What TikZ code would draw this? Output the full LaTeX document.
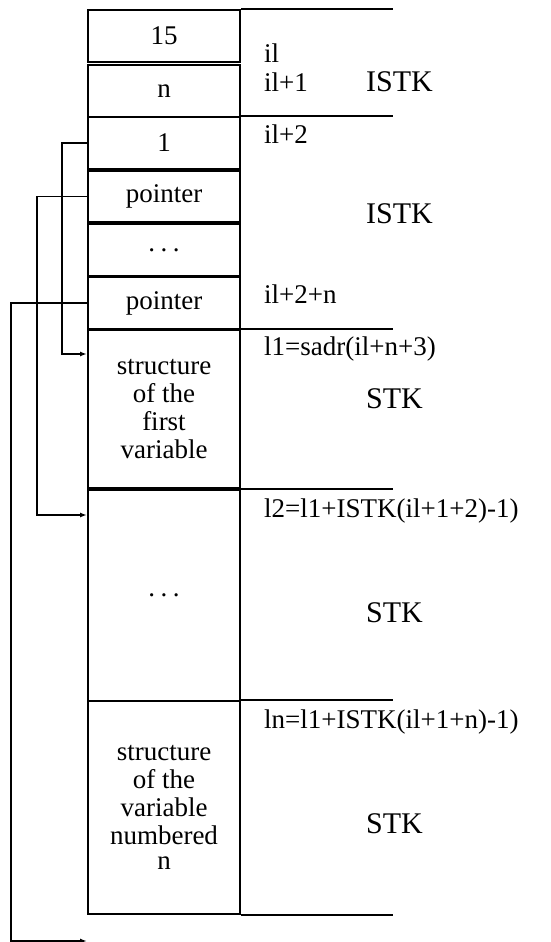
\documentclass[tikz,border=0pt]{standalone}
\usepackage{fontspec}
\setmainfont{Liberation Serif}
\usetikzlibrary{arrows.meta}
\newcommand{\mydots}{.\kern5.5pt.\kern5.5pt.}
\tikzset{
  cell/.style={draw, line width=2pt, minimum width=152pt, inner sep=0pt, align=center,
    font=\fontsize{27}{28}\selectfont},
  lab/.style={anchor=base west, inner sep=0pt, font=\fontsize{27}{28}\selectfont},
  big/.style={anchor=base west, inner sep=0pt, font=\fontsize{30}{32}\selectfont},
  rline/.style={line width=1.7pt},
  conn/.style={line width=1.8pt, -{Latex[length=7pt,width=5pt]}}
}
\begin{document}
\begin{tikzpicture}[x=1pt,y=-1pt]
\useasboundingbox (0,0) rectangle (551,942);
% stack cells
\node[cell, minimum height=52pt] (c15) at (164,36) {15};
\node[cell, minimum height=52pt] (cn) at (164,91) {n};
\node[cell, minimum height=52pt] (c1) at (164,143) {1};
\node[cell, minimum height=51pt] (cp1) at (164,196.5) {pointer};
\node[cell, minimum height=52pt] (cdots) at (164,250) {\mydots};
\node[cell, minimum height=52pt] (cp2) at (164,303) {pointer};
\node[cell, minimum height=158pt] (s1) at (164,409) {structure\\of the\\first\\variable};
\node[cell, minimum height=211pt] (s2) at (164,595.5) {\mydots};
\node[cell, minimum height=213pt] (s3) at (164,807.5) {structure\\of the\\variable\\numbered\\[-3pt]n};
% right-hand lines
\coordinate (r0) at (c15.north east);
\coordinate (r1) at (c1.north east);
\coordinate (r2) at (s1.north east);
\coordinate (r3) at (s2.north east);
\coordinate (r4) at (s3.north east);
\coordinate (r5) at (s3.south east);
\foreach \r in {r0,r1,r2,r3,r4,r5} \draw[rline] (\r) -- ++(152,0);
% labels
\node[lab] (lil) at (264,63) {il};
\node[lab] (lil1) at (264,91) {il+1};
\node[lab] (lil2) at (264,143) {il+2};
\node[lab] (lil2n) at (264,303) {il+2+n};
\node[lab] (ll1) at (264,355) {l1=sadr(il+n+3)};
\node[lab] (ll2) at (264,517) {l2=l1+ISTK(il+1+2)-1)};
\node[lab] (lln) at (264,728) {ln=l1+ISTK(il+1+n)-1)};
\node[big] (istk1) at (366,91) {ISTK};
\node[big] (istk2) at (366,223) {ISTK};
\node[big] (stk1) at (366,408) {STK};
\node[big] (stk2) at (366,622) {STK};
\node[big] (stk3) at (366,833) {STK};
% connectors
\coordinate (t1) at ([yshift=-25pt]s1.north west);
\coordinate (t2) at ([yshift=-26pt]s2.north west);
\coordinate (t3) at ([yshift=-26pt]s3.south west);
\draw[conn] (c1.west) -- ++(-25,0) |- (t1);
\draw[conn] (cp1.west) -- ++(-50,0) |- (t2);
\draw[conn] (cp2.west) -- ++(-76,0) |- (t3);
\end{tikzpicture}
\end{document}
